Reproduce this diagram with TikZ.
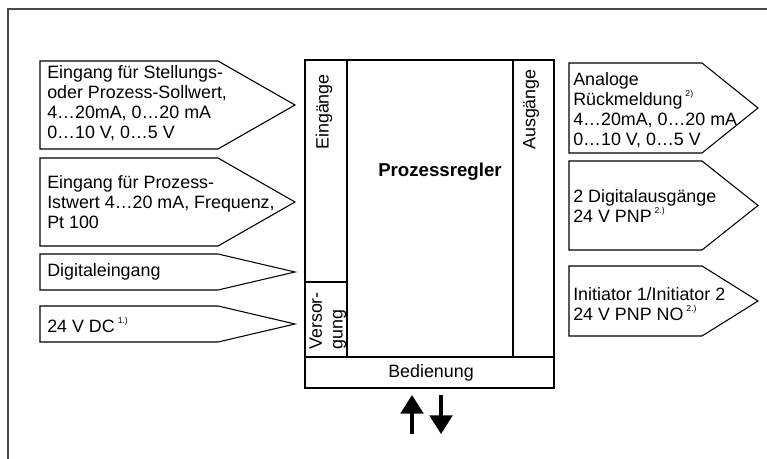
\documentclass[tikz,border=0pt]{standalone}
\usepackage{fontspec}
\setmainfont{Liberation Sans}
\usetikzlibrary{arrows.meta}
\definecolor{framegray}{HTML}{4A4A4A}
% small raised footnote marks
\newcommand\supmark[1]{\,\raisebox{0.5em}{\fontsize{6.5}{6.5}\selectfont #1}}
\begin{document}
\begin{tikzpicture}[x=0.75pt,y=-0.75pt,
  boxline/.style={draw=black,line width=0.8pt,line join=miter},
  framestyle/.style={draw=framegray,line width=1.1pt},
  lbl/.style={font=\fontsize{13.4}{15}\selectfont,align=left,inner sep=0pt,anchor=west},
  vlbl/.style={font=\fontsize{13.4}{15.5}\selectfont,align=left,inner sep=0pt,anchor=west,rotate=90},
  arr/.style={line width=2.4pt,-{Triangle[width=17pt,length=14pt]}}]
\useasboundingbox (0,0) rectangle (767,459);

% outer frame (top and left edges)
\draw[framestyle] (8,459) -- (8,9) -- (767,9);

% input arrows on the left
\draw[boxline] (40,61) -- (218,61) -- (295,105) -- (218,149) -- (40,149) -- cycle;
\node[lbl] (in1) at (47,103) {Eingang für Stellungs-\\oder Prozess-Sollwert,\\4…20mA, 0…20 mA\\0…10 V, 0…5 V};
\draw[boxline] (40,158) -- (218,158) -- (295,202) -- (218,246) -- (40,246) -- cycle;
\node[lbl] (in2) at (47,202) {Eingang für Prozess-\\Istwert 4…20 mA, Frequenz,\\Pt 100};
\draw[boxline] (40,254) -- (218,254) -- (295,272) -- (218,290) -- (40,290) -- cycle;
\node[lbl] (in3) at (47,272) {Digitaleingang};
\draw[boxline] (40,306) -- (218,306) -- (295,324) -- (218,342) -- (40,342) -- cycle;
\node[lbl] (in4) at (47,325) {24 V DC\supmark{1.)}};

% controller block
\draw[boxline] (305,60) rectangle (554,388);
\draw[boxline] (305,357) -- (554,357);
\draw[boxline] (347,60) -- (347,357);
\draw[boxline] (305,282) -- (347,282);
\draw[boxline] (513,60) -- (513,357);
\node[vlbl] (ein) at (324,150) {Eingänge};
\node[vlbl] (aus) at (531,150) {Ausgänge};
\node[vlbl] (vers) at (328,350) {Versor-\\gung};
\node[font=\fontsize{14}{16}\selectfont\bfseries,inner sep=0pt] (pr) at (440,172) {Prozessregler};
\node[font=\fontsize{13.4}{15}\selectfont,inner sep=0pt] (bed) at (431,373) {Bedienung};

% operating arrows below the block
\coordinate (upS) at (412,434);
\coordinate (upE) at (412,395);
\coordinate (dnS) at (441,395);
\coordinate (dnE) at (441,434);
\draw[arr] (upS) -- (upE);
\draw[arr] (dnS) -- (dnE);

% output arrows on the right
\draw[boxline] (569,63) -- (702,63) -- (758,108) -- (702,153) -- (569,153) -- cycle;
\node[lbl] (out1) at (573,110) {Analoge\\Rückmeldung\supmark{2)}\\4…20mA, 0…20 mA\\0…10 V, 0…5 V};
\draw[boxline] (569,161) -- (702,161) -- (758,205.5) -- (702,250) -- (569,250) -- cycle;
\node[lbl] (out2) at (573,206) {2 Digitalausgänge\\24 V PNP\supmark{2.)}};
\draw[boxline] (569,266) -- (702,266) -- (758,301) -- (702,336) -- (569,336) -- cycle;
\node[lbl] (out3) at (573,304) {Initiator 1/Initiator 2\\24 V PNP NO\supmark{2.)}};
\end{tikzpicture}
\end{document}
